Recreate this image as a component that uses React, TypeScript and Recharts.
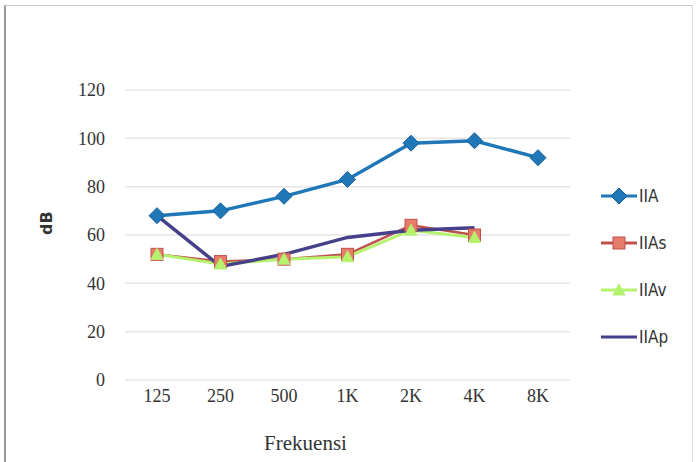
import { CartesianGrid, Line, LineChart, XAxis, YAxis } from "recharts";

const frekuensi = ["125", "250", "500", "1K", "2K", "4K", "8K"];
const iia = [68, 70, 76, 83, 98, 99, 92];
const iias = [52, 49, 50, 52, 64, 60, null];
const iiav = [52, 48, 50, 51, 62, 59, null];
const iiap = [68, 47, 52, 59, 62, 63, null];
const dbTicks = [0, 20, 40, 60, 80, 100, 120];

const data = frekuensi.map((f, i) => ({
  f,
  IIA: iia[i],
  IIAs: iias[i],
  IIAv: iiav[i],
  IIAp: iiap[i],
}));

const COLORS = {
  IIA: "#1f77b8",
  IIAs: "#c0504d",
  IIAv: "#b5f26e",
  IIAp: "#46408a",
};

const SERIF = "'Times New Roman', 'Liberation Serif', serif";
const tickFont = { fontFamily: SERIF, fontSize: 18, fill: "#333" };

type Shape = "diamond" | "square" | "triangle" | "dash";

function marker(shape: Shape, cx: number, cy: number, color: string, key?: string) {
  if (shape === "diamond")
    return <path key={key} d={`M${cx},${cy - 8}L${cx + 8},${cy}L${cx},${cy + 8}L${cx - 8},${cy}Z`} fill={color} stroke="#16609a" strokeWidth={1} />;
  if (shape === "square")
    return <rect key={key} x={cx - 6} y={cy - 6} width={12} height={12} fill="#e87c6b" stroke={color} strokeWidth={1} />;
  if (shape === "triangle")
    return <path key={key} d={`M${cx},${cy - 6}L${cx + 6},${cy + 5}L${cx - 6},${cy + 5}Z`} fill={color} stroke={color} />;
  return <path key={key} d={`M${cx - 5},${cy}L${cx + 5},${cy}`} stroke={color} strokeWidth={2} />;
}

const dotFor = (shape: Shape, color: string) => (p: any) => {
  if (p.cx == null || p.cy == null || p.value == null) return <g key={p.key ?? `d-${p.index}`} />;
  return marker(shape, p.cx, p.cy, color, p.key ?? `d-${p.index}`);
};

const legendItems: { name: string; shape: Shape; color: string }[] = [
  { name: "IIA", shape: "diamond", color: COLORS.IIA },
  { name: "IIAs", shape: "square", color: COLORS.IIAs },
  { name: "IIAv", shape: "triangle", color: COLORS.IIAv },
  { name: "IIAp", shape: "dash", color: COLORS.IIAp },
];

// legend sits to the right of the plot, outside the chart's own layout
function LegendBox() {
  return (
    <div style={{ position: "absolute", left: 600, top: 172 }}>
      {legendItems.map((it) => (
        <div key={it.name} style={{ display: "flex", alignItems: "center", height: 47 }}>
          <svg width={38} height={16}>
            <line x1={1} y1={8} x2={37} y2={8} stroke={it.color} strokeWidth={3} />
            {marker(it.shape, 19, 8, it.color)}
          </svg>
          <span
            style={{
              fontFamily: "'Liberation Sans Narrow', 'DejaVu Sans Condensed', sans-serif",
              fontSize: 17,
              color: "#333",
              marginLeft: 1,
            }}
          >
            {it.name}
          </span>
        </div>
      ))}
    </div>
  );
}

export default function App() {
  return (
    <div
      style={{
        position: "absolute",
        left: 0,
        top: 0,
        width: 696,
        height: 462,
        background: "#fff",
        overflow: "hidden",
      }}
    >
      <div
        style={{
          position: "absolute",
          left: 4,
          top: 5,
          width: 686,
          height: 470,
          borderTop: "1px solid #c8cdd2",
          borderRight: "1px solid #d4d8dc",
          borderLeft: "2px solid #9a9a9a",
        }}
      />
      <LineChart
        width={696}
        height={462}
        data={data}
        margin={{ top: 90, right: 126, bottom: 6, left: 0 }}
        style={{ position: "absolute", left: 0, top: 0 }}
      >
        <CartesianGrid vertical={false} stroke="#e6e6e6" strokeWidth={1.5} />
        <XAxis
          dataKey="f"
          axisLine={false}
          tickLine={false}
          tickSize={0}
          tickMargin={9}
          padding={{ left: 32, right: 32 }}
          height={76}
          tick={tickFont}
          interval={0}
          label={{
            value: "Frekuensi",
            position: "insideBottom",
            offset: 6,
            dx: -42,
            style: { fontFamily: SERIF, fontSize: 21, fill: "#333" },
          }}
        />
        <YAxis
          domain={[0, 120]}
          ticks={dbTicks}
          axisLine={false}
          tickLine={false}
          tickSize={0}
          tickMargin={20}
          width={125}
          tick={tickFont}
          label={{
            value: "dB",
            angle: -90,
            position: "insideLeft",
            offset: 46,
            style: { fontFamily: "'DejaVu Sans', sans-serif", fontWeight: "bold", fontSize: 16, fill: "#333" },
          }}
        />
        <Line dataKey="IIA" stroke={COLORS.IIA} strokeWidth={3.5} dot={dotFor("diamond", COLORS.IIA)} isAnimationActive={false} />
        <Line dataKey="IIAs" stroke={COLORS.IIAs} strokeWidth={2.5} dot={dotFor("square", COLORS.IIAs)} isAnimationActive={false} />
        <Line dataKey="IIAv" stroke={COLORS.IIAv} strokeWidth={3} dot={dotFor("triangle", COLORS.IIAv)} isAnimationActive={false} />
        <Line dataKey="IIAp" stroke={COLORS.IIAp} strokeWidth={3.5} dot={false} isAnimationActive={false} />
      </LineChart>
      <LegendBox />
    </div>
  );
}
